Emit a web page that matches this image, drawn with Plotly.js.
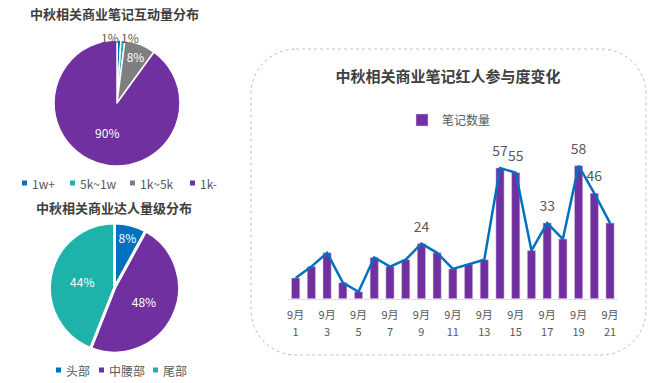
<!DOCTYPE html>
<html><head><meta charset="utf-8">
<script src="https://cdn.plot.ly/plotly-3.0.1.min.js"></script>
<style>html,body{margin:0;padding:0;background:#fff;}#chart{width:657px;height:383px;}</style>
</head><body><div id="chart"></div>
<script>
// ---------- data ----------
const pie1Title = '中秋相关商业笔记互动量分布';
const pie1Labels = ['1w+', '5k~1w', '1k~5k', '1k-'];
const pie1Values = [1, 1, 8, 90];

const pie2Title = '中秋相关商业达人量级分布';
const pie2Labels = ['头部', '中腰部', '尾部'];
const pie2Values = [8, 48, 44];

const barTitle = '中秋相关商业笔记红人参与度变化';
const seriesName = '笔记数量';
const days = [1, 2, 3, 4, 5, 6, 7, 8, 9, 10, 11, 12, 13, 14, 15, 16, 17, 18, 19, 20, 21];
const noteCounts = [9, 14, 20, 7, 3, 18, 14, 17, 24, 20, 13, 15, 17, 57, 55, 21, 33, 26, 58, 46, 33];
const labeledDays = [9, 14, 15, 17, 19, 20];
const tickDays = [1, 3, 5, 7, 9, 11, 13, 15, 17, 19, 21];
const tickMonth = '9月';

// ---------- styles ----------
const W = 657, H = 383;
const BLUE = '#0070C0', TEAL = '#1DB3AB', GRAY = '#7F7F7F', PURPLE = '#7030A0';
const pie1Colors = [BLUE, TEAL, GRAY, PURPLE];
const pie2Colors = [BLUE, PURPLE, TEAL];
const FONT = '"Noto Sans CJK SC", "Noto Sans", sans-serif';
const TXT = '#595959', TITLE = '#404040';
const px = x => x / W, py = y => 1 - y / H;
const P = (x, y) => px(x) + ',' + py(y);

// rounded dashed frame around the right chart
const fx0 = 251, fy0 = 49, fx1 = 646, fy1 = 355, r = 45, k = 0.5523 * r;
const framePath = `M ${P(fx0 + r, fy0)} L ${P(fx1 - r, fy0)} C ${P(fx1 - r + k, fy0)} ${P(fx1, fy0 + r - k)} ${P(fx1, fy0 + r)} ` +
  `L ${P(fx1, fy1 - r)} C ${P(fx1, fy1 - r + k)} ${P(fx1 - r + k, fy1)} ${P(fx1 - r, fy1)} ` +
  `L ${P(fx0 + r, fy1)} C ${P(fx0 + r - k, fy1)} ${P(fx0, fy1 - r + k)} ${P(fx0, fy1 - r)} ` +
  `L ${P(fx0, fy0 + r)} C ${P(fx0, fy0 + r - k)} ${P(fx0 + r - k, fy0)} ${P(fx0 + r, fy0)} Z`;

const pie1Sum = pie1Values.reduce((a, b) => a + b, 0);
const pie1Pct = pie1Values.map(v => Math.round(v / pie1Sum * 100) + '%');

const traces = [
  {
    type: 'pie', labels: pie1Labels, values: pie1Values, sort: false, direction: 'clockwise', rotation: 0,
    marker: {colors: pie1Colors, line: {color: '#fff', width: 1.5}},
    textinfo: 'percent', texttemplate: '%{percent:.0%}',
    textposition: ['none', 'none', 'inside', 'inside'],
    insidetextorientation: 'horizontal',
    insidetextfont: {color: '#fff', size: 12, family: FONT},
    domain: {x: [px(54), px(180)], y: [py(166), py(40)]},
    showlegend: false, hoverinfo: 'skip'
  },
  {
    type: 'pie', labels: pie2Labels, values: pie2Values, sort: false, direction: 'clockwise', rotation: 0,
    marker: {colors: pie2Colors, line: {color: '#fff', width: 3}},
    textinfo: 'percent', texttemplate: '%{percent:.0%}', textposition: 'inside',
    insidetextorientation: 'horizontal',
    insidetextfont: {color: '#fff', size: 12, family: FONT},
    domain: {x: [px(49), px(180)], y: [py(353), py(223)]},
    showlegend: false, hoverinfo: 'skip'
  },
  {
    type: 'bar', x: days, y: noteCounts, name: seriesName,
    marker: {color: PURPLE, line: {color: '#D9C8E6', width: 0.5}},
    width: 0.52, showlegend: true, hoverinfo: 'skip'
  },
  {
    type: 'scatter', mode: 'lines+markers+text', x: days, y: noteCounts, xaxis: 'x2', yaxis: 'y',
    text: days.map((d, i) => labeledDays.includes(d) ? String(noteCounts[i]) : ''),
    textposition: 'top center', textfont: {size: 14, color: TXT, family: FONT},
    marker: {size: 12, color: 'rgba(0,0,0,0)'},
    line: {color: BLUE, width: 2.5}, showlegend: false, cliponaxis: false, hoverinfo: 'skip'
  }
];

const annotations = [
  {text: pie1Title, x: px(114), y: py(13), xref: 'paper', yref: 'paper', xanchor: 'center', yanchor: 'middle',
   showarrow: false, font: {size: 13, color: TITLE, family: FONT, weight: 'bold'}},
  {text: pie2Title, x: px(114), y: py(207), xref: 'paper', yref: 'paper', xanchor: 'center', yanchor: 'middle',
   showarrow: false, font: {size: 13, color: TITLE, family: FONT, weight: 'bold'}}
];
// small-slice percentage labels of pie 1 (placed beside the thin slices)
const smallLabelX = [110, 130], smallLabelY = 37;
[0, 1].forEach((idx, j) => {
  annotations.push({text: pie1Pct[idx], x: px(smallLabelX[j]), y: py(smallLabelY), xref: 'paper', yref: 'paper',
    xanchor: 'center', yanchor: 'middle', showarrow: false, font: {size: 12, color: TXT, family: FONT}});
});

const shapes = [
  {type: 'path', path: framePath, xref: 'paper', yref: 'paper', line: {color: '#BFBFBF', width: 1, dash: 'dot'}, layer: 'below'}
];

// pie legends (swatch + text)
const leg1X = [22, 70, 130, 190], leg1Y = 183;
const leg2X = [56, 99, 153], leg2Y = 370;
function addLegend(labels, colors, xs, y) {
  labels.forEach((lab, i) => {
    shapes.push({type: 'rect', xref: 'paper', yref: 'paper', x0: px(xs[i]), x1: px(xs[i] + 5), y0: py(y + 2.5), y1: py(y - 2.5),
      fillcolor: colors[i], line: {width: 0}});
    annotations.push({text: lab, x: px(xs[i] + 8), y: py(y), xref: 'paper', yref: 'paper', xanchor: 'left', yanchor: 'middle',
      showarrow: false, font: {size: 12, color: TXT, family: FONT}});
  });
}
addLegend(pie1Labels, pie1Colors, leg1X, leg1Y);
addLegend(pie2Labels, pie2Colors, leg2X, leg2Y);

const xDomain = [px(287.8), px(617.9)];
const layout = {
  width: W, height: H, margin: {l: 0, r: 0, t: 0, b: 0, pad: 0},
  paper_bgcolor: '#fff', plot_bgcolor: 'rgba(0,0,0,0)',
  font: {family: FONT, color: TXT},
  title: {text: barTitle, x: px(448), xanchor: 'center', y: py(77), yanchor: 'middle', xref: 'container', yref: 'container',
    font: {size: 15, color: TITLE, family: FONT, weight: 'bold'}},
  showlegend: true,
  legend: {orientation: 'h', x: px(402), xanchor: 'left', y: py(120), yanchor: 'middle',
    font: {size: 12, color: TXT, family: FONT}, bgcolor: 'rgba(0,0,0,0)'},
  xaxis: {domain: xDomain, range: [0.5, 21.5], showgrid: false, zeroline: false,
    showline: true, linecolor: '#E3DAEC', linewidth: 1,
    tickvals: tickDays, ticktext: tickDays.map(() => tickMonth),
    ticks: 'outside', ticklen: 6, tickcolor: 'rgba(0,0,0,0)', tickfont: {size: 11, color: TXT, family: FONT}},
  xaxis2: {domain: xDomain, range: [0.5, 21.5], overlaying: 'x', anchor: 'y', side: 'bottom',
    showgrid: false, zeroline: false, showline: false,
    tickvals: tickDays, ticktext: tickDays.map(d => String(d)),
    ticks: 'outside', ticklen: 23, tickcolor: 'rgba(0,0,0,0)', tickfont: {size: 11, color: TXT, family: FONT}},
  yaxis: {domain: [py(298.7), py(152)], range: [0, 64], visible: false, fixedrange: true},
  bargap: 0.48,
  annotations: annotations, shapes: shapes
};

Plotly.newPlot('chart', traces, layout, {displayModeBar: false, staticPlot: true});
</script>
</body></html>
